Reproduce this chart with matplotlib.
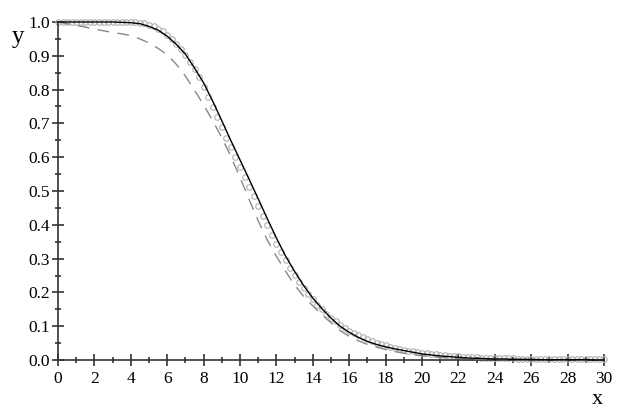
import numpy as np
import matplotlib
matplotlib.use("Agg")
import matplotlib.pyplot as plt
from matplotlib.ticker import MultipleLocator, FormatStrFormatter

# ---- data ----
x_half = np.arange(0, 30.001, 0.5)      # sample positions, step 0.5
x_quarter = np.arange(0, 30.001, 0.25)  # sample positions of circles, step 0.25

solid_y = [1.000, 1.000, 1.000, 1.000, 1.000, 1.000, 1.000, 0.999, 0.998, 0.995,
           0.987, 0.976, 0.958, 0.934, 0.905, 0.864, 0.820, 0.766, 0.708, 0.649,
           0.592, 0.535, 0.477, 0.418, 0.361, 0.308, 0.262, 0.220, 0.183, 0.152,
           0.124, 0.100, 0.082, 0.067, 0.055, 0.046, 0.039, 0.033, 0.028, 0.023,
           0.018, 0.015, 0.012, 0.010, 0.008, 0.006, 0.005, 0.004, 0.003, 0.003,
           0.002, 0.002, 0.002, 0.001, 0.001, 0.001, 0.001, 0.001, 0.001, 0.000,
           0.000]

dashed_y = [1.000, 0.995, 0.990, 0.985, 0.979, 0.974, 0.969, 0.965, 0.960, 0.950,
            0.938, 0.922, 0.903, 0.875, 0.840, 0.798, 0.755, 0.708, 0.658, 0.602,
            0.540, 0.475, 0.412, 0.355, 0.307, 0.263, 0.222, 0.188, 0.160, 0.134,
            0.110, 0.087, 0.070, 0.057, 0.046, 0.038, 0.031, 0.025, 0.020, 0.016,
            0.012, 0.010, 0.008, 0.006, 0.005, 0.004, 0.003, 0.002, 0.002, 0.001,
            0.001, 0.001, 0.001, 0.001, 0.000, 0.000, 0.000, 0.000, 0.000, 0.000,
            0.000]

circle_y = [1.000, 1.000, 1.000, 1.000, 1.000, 1.000, 1.000, 1.000, 1.000, 1.000,
            1.000, 1.000, 1.000, 1.000, 1.000, 1.000, 1.000,
            0.999, 0.998, 0.996, 0.992, 0.987, 0.980, 0.972, 0.962, 0.950, 0.936,
            0.920, 0.902, 0.882, 0.860, 0.836, 0.808, 0.779, 0.749, 0.718, 0.688,
            0.658, 0.629, 0.600, 0.571, 0.542, 0.513, 0.484, 0.455, 0.426, 0.398,
            0.371, 0.344, 0.319, 0.295, 0.272, 0.251, 0.231, 0.212, 0.195, 0.179,
            0.164, 0.150, 0.137, 0.125, 0.114, 0.104, 0.095, 0.087, 0.080, 0.073,
            0.067, 0.061, 0.056, 0.051, 0.047, 0.043, 0.039, 0.036, 0.033, 0.030,
            0.028, 0.026, 0.024, 0.022, 0.020, 0.018, 0.017, 0.015, 0.014, 0.013,
            0.012, 0.011, 0.010, 0.009, 0.008, 0.008, 0.007, 0.006, 0.006, 0.005,
            0.005, 0.005, 0.005, 0.005, 0.004, 0.004, 0.004, 0.004, 0.004, 0.004,
            0.004, 0.004, 0.004, 0.003, 0.003, 0.003, 0.003, 0.003, 0.003, 0.003,
            0.003, 0.003, 0.003, 0.003]

x_tick_labels = [str(v) for v in range(0, 31, 2)]

assert len(solid_y) == len(x_half)
assert len(dashed_y) == len(x_half)
assert len(circle_y) == len(x_quarter)

# ---- figure ----
plt.rcParams['font.family'] = ['Liberation Serif', 'DejaVu Serif']

fig = plt.figure(figsize=(6.23, 4.15), dpi=100)
ax = fig.add_axes([58/623, (415-360)/415, (604-58)/623, (360-22)/415])

axis_col = '#333333'

ax.plot(x_quarter, circle_y, linestyle='none', marker='o', markersize=4.0,
        markerfacecolor='none', markeredgecolor='#b0b0b0', markeredgewidth=0.8,
        clip_on=False, zorder=2)
ax.plot(x_half, dashed_y, color='#888888', linewidth=1.0,
        linestyle=(0, (8.5, 6.0)), zorder=3, clip_on=False)
ax.plot(x_half, solid_y, color='black', linewidth=1.0, zorder=4, clip_on=False)

ax.set_xlim(0, 30)
ax.set_ylim(0, 1.0)

for s in ['top', 'right']:
    ax.spines[s].set_visible(False)
for s in ['left', 'bottom']:
    ax.spines[s].set_color(axis_col)
    ax.spines[s].set_linewidth(1.2)

ax.xaxis.set_major_locator(MultipleLocator(2))
ax.xaxis.set_minor_locator(MultipleLocator(1))
ax.yaxis.set_major_locator(MultipleLocator(0.1))
ax.yaxis.set_minor_locator(MultipleLocator(0.05))
ax.yaxis.set_major_formatter(FormatStrFormatter('%.1f'))
ax.set_xticks(range(0, 31, 2))
ax.set_xticklabels(x_tick_labels)

ax.tick_params(which='major', direction='inout', length=8, width=1.2,
               color=axis_col, labelsize=12.5, labelcolor='black')
ax.tick_params(which='minor', direction='inout', length=5, width=1.2,
               color=axis_col)
ax.tick_params(axis='x', which='major', pad=4)
ax.tick_params(axis='y', which='major', pad=2)

fig.text(18.5/623, 1 - 43/415, 'y', fontsize=18, ha='center', va='baseline')
fig.text(597/623, 1 - 404/415, 'x', fontsize=16, ha='center', va='baseline')

fig.savefig('out.png', dpi=100, facecolor='white')
